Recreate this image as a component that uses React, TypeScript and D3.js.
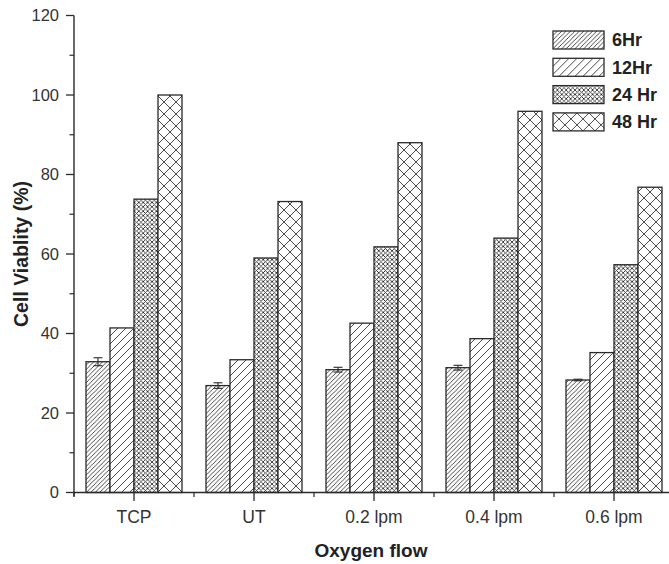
import React from 'react';
import * as d3 from 'd3';

const categories = ['TCP', 'UT', '0.2 lpm', '0.4 lpm', '0.6 lpm'];
const seriesNames = ['6Hr', '12Hr', '24 Hr', '48 Hr'];
const hr6 = [32.9, 26.9, 30.9, 31.4, 28.3];
const hr6Err = [1.0, 0.7, 0.6, 0.6, 0.2];
const hr12 = [41.4, 33.4, 42.6, 38.7, 35.2];
const hr24 = [73.8, 59.0, 61.8, 64.0, 57.3];
const hr48 = [100.0, 73.2, 88.0, 95.9, 76.8];
const yTicks = [0, 20, 40, 60, 80, 100, 120];
const yMinorTicks = [10, 30, 50, 70, 90, 110];

const W = 669;
const H = 564;
const INK = '#2a2a2a';
const FONT = 'Liberation Sans, Arial, Helvetica, sans-serif';

const patternIds = ['p6', 'p12', 'p24', 'p48'];

function Hatch({ id, p, cross }: { id: string; p: number; cross: boolean }) {
  const fwd = `M0,${p} L${p},0 M${-p / 2},${p / 2} L${p / 2},${-p / 2} M${p / 2},${p * 1.5} L${p * 1.5},${p / 2}`;
  const back = `M0,0 L${p},${p} M${-p / 2},${p / 2} L${p / 2},${p * 1.5} M${p / 2},${-p / 2} L${p * 1.5},${p / 2}`;
  return (
    <pattern id={id} patternUnits="userSpaceOnUse" width={p} height={p}>
      <rect width={p} height={p} fill="#fff" />
      <path d={fwd} stroke={INK} strokeWidth={0.85} fill="none" />
      {cross && <path d={back} stroke={INK} strokeWidth={0.85} fill="none" />}
    </pattern>
  );
}

export default function App() {
  const series = [hr6, hr12, hr24, hr48];
  const x = d3.scaleBand<string>().domain(categories).range([74, 674]).paddingInner(0.2).paddingOuter(0.1);
  const xs = d3.scaleBand<string>().domain(seriesNames).range([0, x.bandwidth()]).padding(0);
  const y = d3.scaleLinear().domain([0, 120]).range([492.5, 15.5]);
  const axisY = y(0);
  const step = x.step();
  const minorX = categories.map((c) => (x(c) as number) + x.bandwidth() / 2 - step / 2);
  const legendTop = 31;
  const legendGap = 27.3;

  return (
    <svg width={W} height={H} style={{ position: 'absolute', left: 0, top: 0, background: '#fff' }} fontFamily={FONT}>
      <defs>
        <Hatch id="p6" p={4.4} cross={false} />
        <Hatch id="p12" p={8} cross={false} />
        <Hatch id="p24" p={4.4} cross={true} />
        <Hatch id="p48" p={12} cross={true} />
      </defs>
      <rect width={W} height={H} fill="#fff" />

      {/* bars */}
      {categories.map((c, ci) => (
        <g key={c} transform={`translate(${x(c)},0)`}>
          {series.map((s, si) => (
            <rect
              key={si}
              x={xs(seriesNames[si])}
              y={y(s[ci])}
              width={xs.bandwidth()}
              height={axisY - y(s[ci])}
              fill={`url(#${patternIds[si]})`}
              stroke={INK}
              strokeWidth={1.3}
            />
          ))}
          {(() => {
            const cx = (xs(seriesNames[0]) as number) + xs.bandwidth() / 2;
            const top = y(hr6[ci] + hr6Err[ci]);
            const bot = y(hr6[ci] - hr6Err[ci]);
            return (
              <g stroke={INK} strokeWidth={1.1}>
                <line x1={cx} x2={cx} y1={top} y2={bot} />
                <line x1={cx - 4.5} x2={cx + 4.5} y1={top} y2={top} />
                <line x1={cx - 4.5} x2={cx + 4.5} y1={bot} y2={bot} />
              </g>
            );
          })()}
        </g>
      ))}

      {/* y axis */}
      <line x1={74} x2={74} y1={y(120)} y2={axisY + 4} stroke={INK} strokeWidth={1.4} />
      {yTicks.map((t) => (
        <g key={t}>
          <line x1={66} x2={74} y1={y(t)} y2={y(t)} stroke={INK} strokeWidth={1.3} />
          <text x={59} y={y(t)} dy="0.36em" textAnchor="end" fontSize={16.5} fill="#333">
            {t}
          </text>
        </g>
      ))}
      {yMinorTicks.map((t) => (
        <line key={t} x1={69.5} x2={74} y1={y(t)} y2={y(t)} stroke={INK} strokeWidth={1.2} />
      ))}

      {/* x axis */}
      <line x1={74} x2={W} y1={axisY} y2={axisY} stroke={INK} strokeWidth={1.4} />
      {categories.map((c) => {
        const cx = (x(c) as number) + x.bandwidth() / 2;
        return (
          <g key={c}>
            <line x1={cx} x2={cx} y1={axisY} y2={axisY + 8.5} stroke={INK} strokeWidth={1.3} />
            <text x={cx} y={523} textAnchor="middle" fontSize={17.5} fill="#333">
              {c}
            </text>
          </g>
        );
      })}
      {minorX.map((mx, i) => (
        <line key={i} x1={mx} x2={mx} y1={axisY} y2={axisY + 4.5} stroke={INK} strokeWidth={1.2} />
      ))}

      {/* axis titles */}
      <text x={371} y={557} textAnchor="middle" fontSize={19} fontWeight="bold" fill="#222">
        Oxygen flow
      </text>
      <text
        transform={`translate(28,${(y(0) + y(120)) / 2}) rotate(-90)`}
        textAnchor="middle"
        fontSize={19.5}
        fontWeight="bold"
        fill="#222"
      >
        Cell Viablity (%)
      </text>

      {/* legend */}
      {seriesNames.map((n, i) => (
        <g key={n} transform={`translate(553,${legendTop + i * legendGap})`}>
          <rect x={0} y={0} width={51} height={18} fill={`url(#${patternIds[i]})`} stroke={INK} strokeWidth={1.3} />
          <text x={59} y={9} dy="0.36em" fontSize={18} fontWeight="bold" fill="#222">
            {n}
          </text>
        </g>
      ))}
    </svg>
  );
}
